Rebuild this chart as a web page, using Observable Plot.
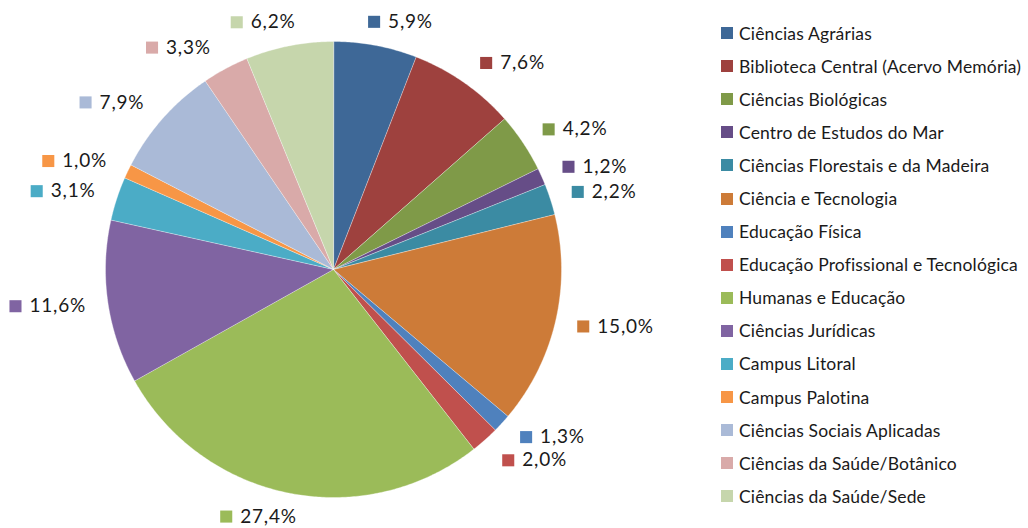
<!DOCTYPE html>
<html><head><meta charset="utf-8">
<script src="https://cdn.jsdelivr.net/npm/d3@7"></script>
<script src="https://cdn.jsdelivr.net/npm/@observablehq/plot@0.6"></script>
<style>
html,body{margin:0;padding:0;background:#fff;}
#wrap{position:relative;width:1028px;height:528px;overflow:hidden;}
#chart{position:absolute;left:0;top:0;}
#chart svg text{letter-spacing:0.8px;}
#legend{position:absolute;left:721px;top:16.5px;font-family:Lato, sans-serif;font-size:17.5px;letter-spacing:0.15px;color:#1a1a1a;}
.row{display:flex;align-items:center;height:33.1px;white-space:nowrap;}
.sw{width:12px;height:12px;margin-right:6px;flex:none;}
</style></head><body><div id="wrap"><div id="chart"></div><div id="legend"></div></div>
<script>
const categories = [
  "Ciências Agrárias",
  "Biblioteca Central (Acervo Memória)",
  "Ciências Biológicas",
  "Centro de Estudos do Mar",
  "Ciências Florestais e da Madeira",
  "Ciência e Tecnologia",
  "Educação Física",
  "Educação Profissional e Tecnológica",
  "Humanas e Educação",
  "Ciências Jurídicas",
  "Campus Litoral",
  "Campus Palotina",
  "Ciências Sociais Aplicadas",
  "Ciências da Saúde/Botânico",
  "Ciências da Saúde/Sede"
];
const values = [5.9, 7.6, 4.2, 1.2, 2.2, 15.0, 1.3, 2.0, 27.4, 11.6, 3.1, 1.0, 7.9, 3.3, 6.2];
const colors = [
  "#3E6897", "#9E413E", "#7F9A48", "#664D87", "#3B8BA3",
  "#CD7B38", "#4F81BD", "#C0504D", "#9BBB59", "#8064A2",
  "#4BACC6", "#F79646", "#AABAD7", "#D9AAA9", "#C6D6AC"
];
const valueLabels = values.map(v => v.toFixed(1).replace(".", ",") + "%");

const W = 710, H = 528, cx = 333, cy = 269, r = 228;
const fontSize = 19, letterSp = 0.8;
const ctx = document.createElement("canvas").getContext("2d");
ctx.font = fontSize + "px Lato";

const total = d3.sum(values);
let acc = 0;
const slices = [], boxes = [];
values.forEach((v, i) => {
  const a0 = acc / total * 2 * Math.PI; acc += v;
  const a1 = acc / total * 2 * Math.PI;
  const n = Math.max(2, Math.ceil((a1 - a0) / (Math.PI / 360)));
  slices.push({cat: categories[i], x: 0, y: 0});
  for (let k = 0; k <= n; k++) {
    const a = a0 + (a1 - a0) * k / n;
    slices.push({cat: categories[i], x: Math.sin(a), y: Math.cos(a)});
  }
  // label placement (outside end)
  const m = (a0 + a1) / 2, s = Math.sin(m), c = Math.cos(m);
  const tw = ctx.measureText(valueLabels[i]).width + letterSp * valueLabels[i].length;
  const w = 12 + 8 + tw;
  const R = r + 14;
  const gx = cx + R * s + Math.sign(s) * Math.min(1, 3 * Math.abs(s)) * (w / 2 + 8);
  const gy = cy - R * c - c * 10;
  boxes.push({i, w, gx, gy});
});
// simple collision resolution between neighbouring labels
const minSep = fontSize * 1.22;
for (let pass = 0; pass < 3; pass++) {
  for (let a = 0; a < boxes.length; a++) {
    const b = boxes[(a + 1) % boxes.length], p = boxes[a];
    const xOverlap = Math.abs(p.gx - b.gx) < (p.w + b.w) / 2;
    const d = b.gy - p.gy;
    if (xOverlap && Math.abs(d) < minSep) {
      const mid = (p.gy + b.gy) / 2, sg = d >= 0 ? 1 : -1;
      p.gy = mid - sg * minSep / 2; b.gy = mid + sg * minSep / 2;
    }
  }
}
const labelRows = boxes.map(({i, w, gx, gy}) => {
  const left = gx - w / 2;
  return {
    cat: categories[i], label: valueLabels[i],
    sx: (left + 6 - cx) / r, sy: -(gy - cy) / r,
    tx: (left + 20 - cx) / r, ty: -(gy - cy) / r
  };
});

const chart = Plot.plot({
  width: W, height: H, margin: 0,
  x: {domain: [-1, 1], range: [cx - r, cx + r], axis: null},
  y: {domain: [-1, 1], range: [cy + r, cy - r], axis: null},
  color: {domain: categories, range: colors},
  style: {background: "white", overflow: "visible"},
  marks: [
    Plot.line(slices, {x: "x", y: "y", z: "cat", fill: "cat", stroke: "white", strokeWidth: 0.5, strokeOpacity: 0.7, curve: "linear-closed"}),
    Plot.dot(labelRows, {x: "sx", y: "sy", fill: "cat", symbol: "square", r: 6.8}),
    Plot.text(labelRows, {x: "tx", y: "ty", text: "label", textAnchor: "start", fontSize: fontSize, fontFamily: "Lato", fill: "#1a1a1a"})
  ]
});
document.getElementById("chart").appendChild(chart);

const legend = document.getElementById("legend");
categories.forEach((cat, i) => {
  const row = document.createElement("div");
  row.className = "row";
  const sw = document.createElement("span");
  sw.className = "sw";
  sw.style.background = colors[i];
  const t = document.createElement("span");
  t.textContent = cat;
  row.appendChild(sw); row.appendChild(t);
  legend.appendChild(row);
});
</script>
</body></html>
